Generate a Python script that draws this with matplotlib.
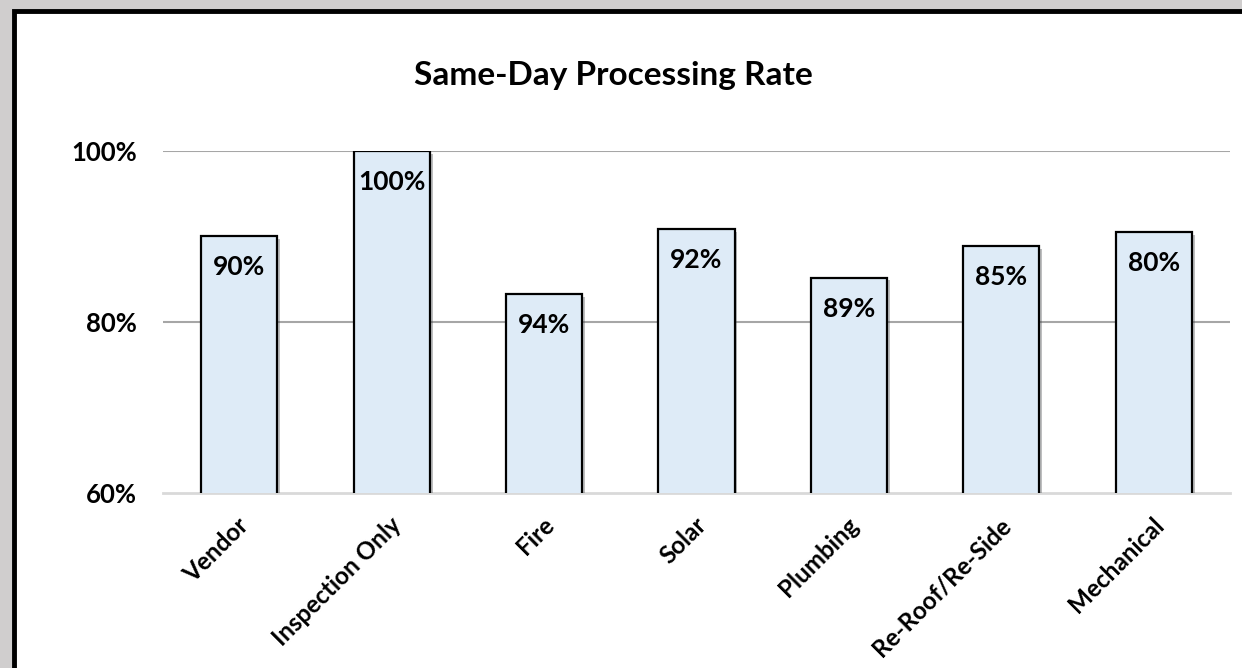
import matplotlib
matplotlib.use("Agg")
import matplotlib.pyplot as plt
import matplotlib.patheffects as pe
from matplotlib.patches import Rectangle
from matplotlib.transforms import ScaledTranslation

categories = ["Vendor", "Inspection Only", "Fire", "Solar", "Plumbing",
              "Re-Roof/Re-Side", "Mechanical"]
rates = [90.0, 100.0, 83.3, 90.9, 85.2, 88.9, 90.5]
bar_labels = ["90%", "100%", "94%", "92%", "89%", "85%", "80%"]
yticks = [60, 80, 100]

plt.rcParams["font.family"] = ["Lato", "DejaVu Sans"]
plt.rcParams["font.weight"] = "bold"

fig = plt.figure(figsize=(12.42, 6.68), dpi=100, facecolor="#d0cece")
# white chart area with black border on top/left
fig.patches.append(Rectangle((14 / 1242, -0.05), 1.0, 1.05 - 10.5 / 668,
                             transform=fig.transFigure, facecolor="white",
                             edgecolor="black", linewidth=3.5, zorder=-5))

ax = fig.add_axes([163 / 1242, 1 - 493 / 668, (1230 - 163) / 1242, (493 - 151) / 668])
ax.set_facecolor("none")
ax.set_zorder(2)

x = range(len(categories))
bars = ax.bar(x, rates, width=0.5, bottom=0, color="#deebf7",
              edgecolor="black", linewidth=1.6, zorder=3)
for b in bars:
    b.set_path_effects([pe.SimplePatchShadow(offset=(2, -2), alpha=0.35), pe.Normal()])

for i, (v, lab) in enumerate(zip(rates, bar_labels)):
    ax.annotate(lab, (i, v), xytext=(0, -31), textcoords="offset pixels",
                ha="center", va="center", fontsize=19, fontweight="bold", zorder=4)

ax.set_xlim(-0.5, len(categories) - 0.5)
ax.set_ylim(60, 100)
ax.set_yticks(yticks)
ax.set_yticklabels([f"{t}%" for t in yticks], fontsize=18.5, fontweight="bold")
ax.tick_params(axis="y", length=0, pad=19)
ax.tick_params(axis="x", length=0, pad=6)
ax.set_xticks(list(x))
ax.set_xticklabels(categories, rotation=45, ha="right", va="center",
                   rotation_mode="anchor", fontsize=17.5, fontweight="bold")
for lbl in ax.get_xticklabels():
    lbl.set_transform(lbl.get_transform() + ScaledTranslation(0.06, -0.2, fig.dpi_scale_trans))

for t in [80, 100]:
    ax.axhline(t, color="#a6a6a6", linewidth=1.5, zorder=1)
for s in ["top", "right", "left"]:
    ax.spines[s].set_visible(False)
ax.spines["bottom"].set_color("#d9d9d9")
ax.spines["bottom"].set_linewidth(2)
ax.spines["bottom"].set_zorder(2)

fig.text(613 / 1242, 1 - 75 / 668, "Same-Day Processing Rate", ha="center", va="center",
         fontsize=24, fontweight="bold")

fig.savefig("out.png", dpi=100, facecolor=fig.get_facecolor())
